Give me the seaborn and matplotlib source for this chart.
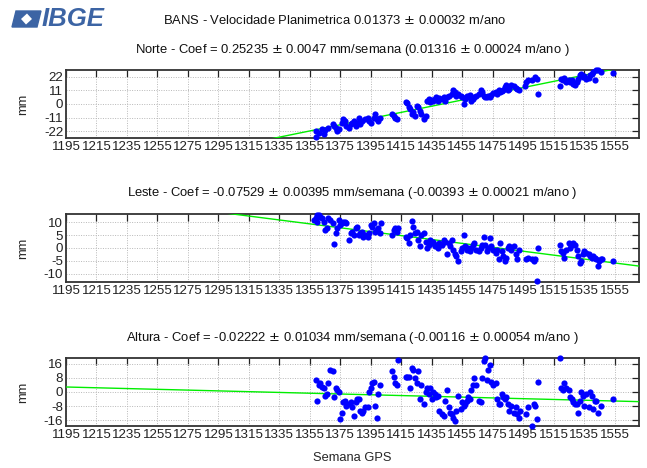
import matplotlib
matplotlib.use("Agg")
import matplotlib.pyplot as plt
import seaborn as sns
import numpy as np
import pandas as pd
from matplotlib.patches import Polygon

# ---------------- data ----------------
norte_week = [1359, 1359, 1361, 1363, 1364, 1365, 1367, 1370, 1371, 1372, 1374, 1373, 1376, 1377, 1378,
              1379, 1381, 1382, 1383, 1384, 1385, 1386, 1387, 1388, 1389, 1391, 1393, 1394, 1395, 1397,
              1398, 1399, 1400, 1401, 1409, 1410, 1411, 1412, 1418, 1419, 1420, 1421, 1422, 1423, 1424,
              1425, 1426, 1427, 1428, 1430, 1431, 1432, 1433, 1434, 1435, 1436, 1437, 1438, 1439, 1440,
              1442, 1443, 1444, 1445, 1446, 1448, 1449, 1450, 1451, 1452, 1454, 1455, 1456, 1457, 1458,
              1459, 1460, 1461, 1462, 1463, 1464, 1466, 1467, 1468, 1469, 1470, 1471, 1472, 1473, 1474,
              1475, 1477, 1478, 1479, 1480, 1481, 1482, 1483, 1484, 1485, 1486, 1487, 1489, 1490, 1491,
              1492, 1496, 1497, 1498, 1501, 1503, 1504, 1505, 1519, 1520, 1521, 1522, 1523, 1525, 1526,
              1527, 1528, 1529, 1530, 1531, 1532, 1533, 1534, 1535, 1536, 1538, 1539, 1540, 1541, 1542,
              1543, 1544, 1546, 1554]
norte_mm = [-27.0, -22.0, -23.4, -20.6, -24.7, -21.5, -19.2, -16.5, -17.9, -19.2, -20.6, -22.0, -15.1, -12.4, -13.7,
            -17.9, -19.2, -16.5, -15.1, -13.7, -17.9, -15.1, -11.0, -16.5, -13.7, -12.4, -11.0, -13.7, -15.1, -11.0,
            -8.2, -12.4, -13.7, -11.0, -8.2, -9.6, -11.0, -12.4, 1.4, 0.5, -2.7, -4.1, -8.2, -6.9, -9.6,
            -1.4, -2.2, -5.5, -8.2, -12.4, -9.6, 2.7, 4.1, 1.4, 3.3, 2.2, 4.1, 5.5, 2.8, 5.0,
            4.1, 6.0, 2.8, 5.5, 6.9, 8.2, 11.0, 9.6, 6.9, 8.2, 6.9, 5.5, 0.0, 4.1, 6.9,
            5.5, 7.7, 2.8, 4.1, 5.5, 6.9, 8.2, 11.0, 9.6, 6.9, 5.5, 6.0, 6.9, 5.5, 7.7,
            8.8, 9.6, 8.2, 11.0, 9.6, 10.4, 11.6, 13.7, 15.1, 11.0, 12.4, 15.1, 14.3, 13.2, 12.4,
            11.0, 14.3, 17.9, 19.2, 19.8, 22.0, 20.6, 8.2, 14.3, 20.6, 19.2, 21.5, 17.9, 19.2, 17.9,
            19.8, 16.5, 15.1, 17.9, 20.6, 23.4, 24.7, 22.0, 22.5, 20.6, 21.5, 23.4, 24.7, 26.1, 19.8,
            27.3, 27.3, 26.1, 25.3]

leste_week = [1359, 1360, 1361, 1362, 1363, 1364, 1365, 1366, 1360, 1358, 1367, 1368, 1370, 1371, 1372,
              1373, 1374, 1375, 1376, 1377, 1378, 1379, 1381, 1382, 1383, 1384, 1385, 1386, 1387, 1388,
              1389, 1390, 1391, 1393, 1394, 1395, 1396, 1397, 1398, 1399, 1400, 1401, 1402, 1409, 1410,
              1411, 1412, 1413, 1418, 1419, 1420, 1421, 1422, 1423, 1424, 1425, 1426, 1427, 1428, 1430,
              1431, 1432, 1433, 1434, 1435, 1436, 1437, 1438, 1439, 1440, 1442, 1443, 1444, 1445, 1446,
              1447, 1448, 1449, 1450, 1451, 1452, 1454, 1455, 1456, 1457, 1458, 1459, 1460, 1461, 1462,
              1463, 1464, 1466, 1467, 1468, 1469, 1470, 1471, 1472, 1473, 1474, 1475, 1477, 1478, 1479,
              1480, 1481, 1482, 1483, 1484, 1485, 1486, 1487, 1489, 1490, 1491, 1492, 1497, 1498, 1501,
              1502, 1503, 1504, 1505, 1519, 1520, 1521, 1522, 1523, 1525, 1526, 1527, 1528, 1529, 1530,
              1531, 1532, 1533, 1534, 1535, 1536, 1538, 1539, 1540, 1541, 1542, 1543, 1544, 1545, 1546,
              1547, 1554]
leste_mm = [11.4, 12.7, 12.9, 12.0, 11.4, 10.1, 7.0, 7.6, 10.1, 10.8, 11.4, 10.8, 9.5, 1.5, 5.7,
            7.6, 10.8, 8.9, 9.5, 10.1, 10.1, 9.5, 3.2, 5.7, 6.3, 5.1, 7.6, 8.2, 5.1, 5.7,
            6.3, 4.4, 5.1, 4.4, 5.7, 8.9, 8.2, 9.5, 6.3, 7.0, 7.6, 5.7, 9.5, 5.1, 7.0,
            7.6, 6.3, 7.6, 4.4, 3.8, 1.9, 5.1, 10.4, 8.2, 5.7, 6.3, 3.2, 0.6, 5.1, 5.7,
            2.5, 0.0, 1.3, 3.2, 1.9, 2.5, 0.6, 1.3, 0.0, 1.9, 1.3, 3.2, 2.5, -2.5, 1.9,
            0.6, 3.2, -0.6, -2.5, -3.2, -5.1, -1.3, 0.0, 5.1, 0.6, -0.6, 0.0, -1.3, 0.0, 1.3,
            1.9, -0.6, -1.3, 0.0, 1.3, 4.4, 1.3, -1.3, 0.0, 3.8, 0.6, -0.6, -1.9, -0.6, -4.4,
            1.9, -1.3, -3.2, -5.1, -3.8, 0.0, 0.6, -0.6, 0.6, -2.5, -4.4, -0.6, -4.4, -3.8, -4.4,
            -5.1, -4.4, -12.7, 0.0, 1.3, -1.3, -1.9, -3.8, -0.6, 1.9, 0.0, 1.3, 1.9, 1.3, -0.6,
            -3.2, -5.7, -5.1, -2.5, -1.3, -1.9, -2.5, -3.2, -3.8, -3.2, -3.8, -4.4, -7.0, -5.1, -4.4,
            -4.4, -5.1]

altura_week = [1359, 1360, 1361, 1362, 1363, 1364, 1365, 1366, 1367, 1368, 1370, 1371, 1372, 1373, 1374,
               1375, 1376, 1377, 1378, 1379, 1381, 1382, 1383, 1384, 1385, 1386, 1387, 1388, 1389, 1390,
               1391, 1393, 1394, 1395, 1396, 1397, 1398, 1399, 1400, 1401, 1409, 1410, 1411, 1412, 1413,
               1418, 1419, 1420, 1421, 1422, 1423, 1424, 1425, 1426, 1427, 1428, 1430, 1431, 1432, 1433,
               1434, 1435, 1436, 1437, 1438, 1439, 1440, 1442, 1443, 1444, 1445, 1446, 1447, 1448, 1449,
               1450, 1451, 1452, 1454, 1455, 1456, 1457, 1458, 1459, 1460, 1461, 1462, 1463, 1464, 1466,
               1467, 1468, 1469, 1470, 1471, 1472, 1473, 1474, 1475, 1477, 1478, 1479, 1480, 1481, 1482,
               1483, 1484, 1485, 1486, 1487, 1489, 1490, 1491, 1492, 1493, 1497, 1498, 1501, 1502, 1503,
               1504, 1505, 1519, 1520, 1521, 1522, 1523, 1525, 1526, 1527, 1528, 1529, 1530, 1531, 1532,
               1533, 1534, 1535, 1536, 1538, 1539, 1540, 1541, 1542, 1543, 1544, 1546, 1554]
altura_mm = [6.8, -4.9, 3.9, 4.9, 2.9, 2.0, -2.0, -1.0, 4.9, 12.7, 11.7, -2.9, 2.0, 1.0, 0.0,
             -15.6, -11.7, -5.9, -4.9, -7.8, -6.8, -5.9, -8.8, -13.7, -5.9, -3.9, -3.9, -10.7, -11.7, -10.7,
             -8.8, -8.8, 0.0, 2.0, 4.9, 5.9, -7.8, -14.6, -1.0, 3.9, 11.7, 8.8, 4.9, 3.9, 18.5,
             8.8, 8.8, 8.8, 2.0, 13.7, 12.7, 7.8, 4.9, 11.7, -3.9, 3.9, -6.8, 0.0, 2.0, -1.0,
             2.0, -3.9, 0.0, -1.0, -2.9, -2.0, -10.7, -12.7, -13.7, -4.9, 1.0, -8.8, -11.7, -12.7, -14.6,
             -16.6, -10.7, -2.0, -9.8, -5.9, -7.8, -6.8, -4.9, -2.9, -3.9, 1.0, 3.9, 7.8, 3.9, -4.9,
             -5.9, 7.8, 17.6, 19.2, 6.8, 12.7, 15.6, 5.9, 3.9, 4.9, -3.9, -6.8, -6.8, -1.0, -2.9,
             -3.9, -2.9, -6.8, -10.7, -7.8, -11.7, -8.8, -12.7, -14.6, -10.7, -12.7, -8.8, -19.2, -6.8, -7.8,
             -15.6, 5.9, 19.2, 2.0, 1.0, 4.9, 2.0, 1.0, -2.9, -3.9, -5.9, -6.8, -6.8, -11.7, -4.9,
             0.0, -2.0, -7.8, -1.0, -8.8, 0.0, -2.0, -9.8, -4.9, -4.9, -11.7, -7.8, -3.9]

# fitted trend: slope (mm/week) and zero-crossing week
norte_fit = (0.25235, 1442.0)
leste_fit = (-0.07529, 1478.5)
altura_fit = (-0.02222, 1323.6)

x_ticks = list(range(1195, 1556, 20))
norte_yticks = [22, 11, 0, -11, -22]
leste_yticks = [10, 5, 0, -5, -10]
altura_yticks = [16, 8, 0, -8, -16]

main_title = "BANS - Velocidade Planimetrica 0.01373 $\\pm$ 0.00032 m/ano"
titles = ["Norte - Coef = 0.25235 $\\pm$ 0.0047 mm/semana (0.01316 $\\pm$ 0.00024 m/ano )",
          "Leste - Coef = -0.07529 $\\pm$ 0.00395 mm/semana (-0.00393 $\\pm$ 0.00021 m/ano )",
          "Altura - Coef = -0.02222 $\\pm$ 0.01034 mm/semana (-0.00116 $\\pm$ 0.00054 m/ano )"]

# ---------------- plot ----------------
sns.set_style("white")
plt.rcParams['font.family'] = ['Liberation Sans', 'DejaVu Sans']
plt.rcParams['mathtext.fontset'] = 'dejavusans'
TICK_FONT = ['Liberation Sans Narrow', 'Liberation Sans', 'DejaVu Sans']

W, H = 647, 468
fig = plt.figure(figsize=(W / 100, H / 100), dpi=100)

XMIN, XMAX = 1195, 1571
panels = [
    (norte_week, norte_mm, norte_fit, norte_yticks, 27.7, 70, 138, 50),
    (leste_week, leste_mm, leste_fit, leste_yticks, 13.1, 214, 282, 193),
    (altura_week, altura_mm, altura_fit, altura_yticks, 19.4, 358, 426, 338),
]

left_px, right_px = 66, 639
for i, (wk, mm, fit, yt, ylim, top_px, bot_px, title_px) in enumerate(panels):
    ax = fig.add_axes([left_px / W, 1 - bot_px / H, (right_px - left_px) / W, (bot_px - top_px) / H])
    df = pd.DataFrame({"week": wk, "mm": mm})
    slope, x0 = fit
    line_x = np.array([XMIN, XMAX], dtype=float)
    ldf = pd.DataFrame({"week": line_x, "mm": slope * (line_x - x0)})
    sns.lineplot(data=ldf, x="week", y="mm", ax=ax, color="#00ee00", lw=1.0, zorder=3)
    sns.scatterplot(data=df, x="week", y="mm", ax=ax, color="#0000ff", s=20, linewidth=0,
                    zorder=4, clip_on=False)
    ax.set_xlim(XMIN, XMAX)
    ax.set_ylim(-ylim, ylim)
    ax.set_xticks(x_ticks)
    ax.set_yticks(yt)
    ax.set_xticklabels([str(t) for t in x_ticks], family=TICK_FONT, fontsize=9.6)
    ax.set_yticklabels([str(t) for t in yt], family=TICK_FONT, fontsize=9.6)
    ax.grid(True, linestyle=(0, (1, 1.5)), color="#b8b8b8", lw=0.7)
    ax.tick_params(direction="in", top=True, right=True, length=5, width=0.9,
                   colors="#222222", pad=2)
    for s in ax.spines.values():
        s.set_linewidth(1.3)
        s.set_color("#333333")
    ax.set_ylabel("mm", fontsize=9.3)
    ax.yaxis.label.set_va("center")
    ax.yaxis.set_label_coords((23 - left_px) / (right_px - left_px), 0.5)
    ax.set_xlabel("")
    fig.text(0.5 * (left_px + right_px) / W, 1 - title_px / H, titles[i],
             ha="center", va="center", fontsize=9.4, color="#111111")
    if i == 2:
        ax.set_xlabel("Semana GPS", fontsize=9.3)
        ax.xaxis.label.set_va("center")
        ax.xaxis.set_label_coords(0.5, -(458 - bot_px) / (bot_px - top_px))

fig.text(335 / W, 1 - 20 / H, main_title, ha="center", va="center", fontsize=9.4, color="#111111")

# IBGE logo
logo_col = "#3c64a4"
pts = [(16, 11), (41, 11), (37, 27), (12, 27)]
fig.patches.append(Polygon([(x / W, 1 - y / H) for x, y in pts], closed=True,
                           transform=fig.transFigure, color=logo_col, zorder=1))
dia = [(27, 13.5), (32, 19), (26, 24.5), (21, 19)]
fig.patches.append(Polygon([(x / W, 1 - y / H) for x, y in dia], closed=True,
                           transform=fig.transFigure, facecolor="white", edgecolor="none", zorder=2))
fig.text(42 / W, 1 - 19 / H, "IBGE", ha="left", va="center", fontsize=18.5, fontweight="bold",
         fontstyle="italic", color=logo_col, family=["Liberation Sans", "DejaVu Sans"], zorder=5)

fig.savefig("out.png", dpi=100)
